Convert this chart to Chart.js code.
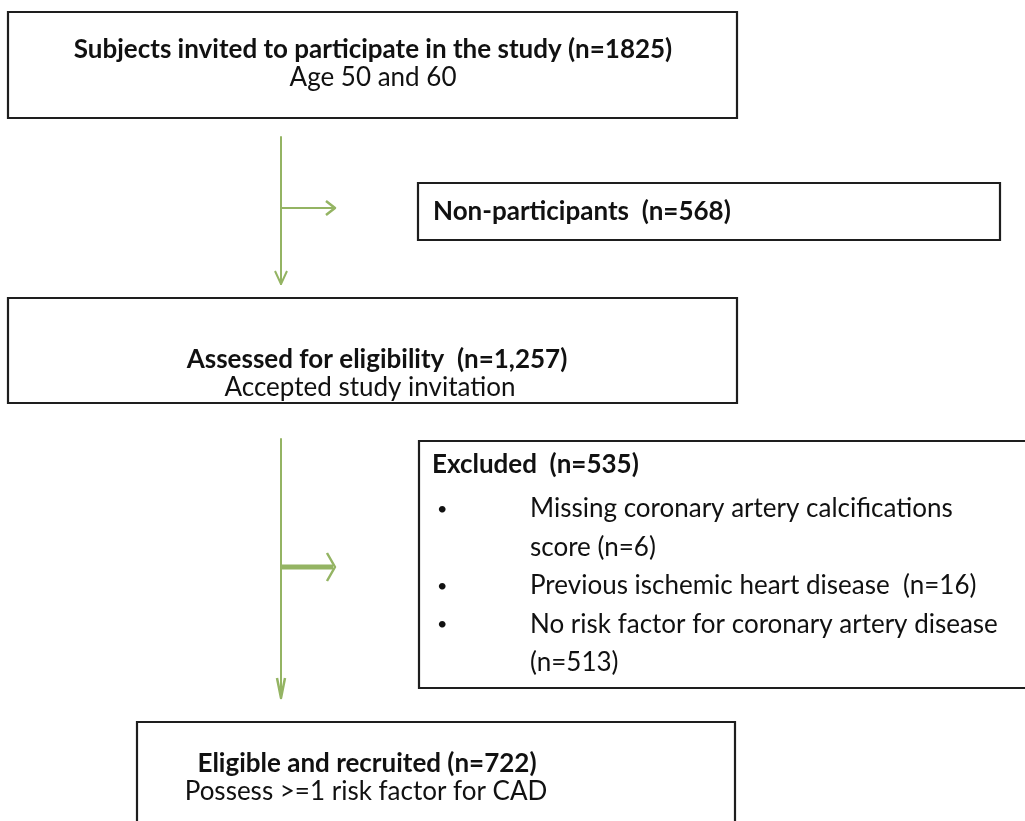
<!DOCTYPE html>
<html>
<head>
<meta charset="utf-8">
<script src="https://cdn.jsdelivr.net/npm/chart.js@4.4.0/dist/chart.umd.min.js"></script>
<style>
  html, body { margin: 0; padding: 0; background: #ffffff; }
  #flow { display: block; }
</style>
</head>
<body>
<canvas id="flow" width="1025" height="821"></canvas>
<script>
// Flow chart content (stage titles, counts, notes)
const stageTitles = ["Subjects invited to participate in the study", "Non-participants", "Assessed for eligibility", "Excluded", "Eligible and recruited"];
const stageCounts = ["1825", "568", "1,257", "535", "722"];
const stageNotes = ["Age 50 and 60", "", "Accepted study invitation", "", "Possess >=1 risk factor for CAD"];

// Exclusion reasons and their counts
const exclusionReasons = ["Missing coronary artery calcifications score", "Previous ischemic heart disease ", "No risk factor for coronary artery disease"];
const exclusionCounts = ["6", "16", "513"];

// Layout of the boxes (canvas units), kept apart from the data
const boxColor = "#1e1e1e";
const arrowColor = "#94b463";
const font = "Lato, 'Open Sans', sans-serif";

const boxPaths = [
    [[8, 12], [737, 12], [737, 118], [8, 118], [8, 12]],
    [[418, 183], [1000, 183], [1000, 240], [418, 240], [418, 183]],
    [[8, 298], [737, 298], [737, 403], [8, 403], [8, 298]],
    [[1030, 441], [419, 441], [419, 688], [1030, 688]],
    [[137, 830], [137, 722], [735, 722], [735, 830]]
];

const arrowPaths = [
    { pts: [[281, 137], [281, 284]], w: 2 },
    { pts: [[275, 271], [281, 284], [287, 271]], w: 2 },
    { pts: [[281, 208], [334, 208]], w: 2 },
    { pts: [[326, 201], [335, 208], [326, 215]], w: 2.5 },
    { pts: [[281, 439], [281, 698]], w: 2 },
    { pts: [[277, 678], [281, 698], [285, 678]], w: 2.5 },
    { pts: [[281, 567], [333, 567]], w: 5 },
    { pts: [[327, 553], [335, 567], [327, 581]], w: 2.5 }
];

function toPoints(pts) {
    return pts.map(function (p) { return { x: p[0], y: p[1] }; });
}

let datasets = [];
boxPaths.forEach(function (path) {
    datasets.push({
        data: toPoints(path),
        showLine: true,
        borderColor: boxColor,
        borderWidth: 2.2,
        pointRadius: 0,
        tension: 0,
        borderJoinStyle: "miter",
        borderCapStyle: "square"
    });
});
arrowPaths.forEach(function (a) {
    datasets.push({
        data: toPoints(a.pts),
        showLine: true,
        borderColor: arrowColor,
        borderWidth: a.w,
        pointRadius: 0,
        tension: 0,
        borderJoinStyle: "round",
        borderCapStyle: "butt"
    });
});

// Text placed through the chart scales
function buildLines() {
    let lines = [];
    // Box 1
    lines.push({ x: 373, y: 50, text: stageTitles[0] + " (n=" + stageCounts[0] + ")", bold: true, align: "center" });
    lines.push({ x: 373, y: 78, text: stageNotes[0], bold: false, align: "center" });
    // Box 2
    lines.push({ x: 433, y: 212, text: stageTitles[1] + "  (n=" + stageCounts[1] + ")", bold: true, align: "left" });
    // Box 3
    lines.push({ x: 377, y: 360, text: stageTitles[2] + "  (n=" + stageCounts[2] + ")", bold: true, align: "center" });
    lines.push({ x: 370, y: 388, text: stageNotes[2], bold: false, align: "center" });
    // Box 4
    lines.push({ x: 432, y: 465, text: stageTitles[3] + "  (n=" + stageCounts[3] + ")", bold: true, align: "left" });
    const reasonLines = [
        [exclusionReasons[0].replace(" score", ""), "score (n=" + exclusionCounts[0] + ")"],
        [exclusionReasons[1] + " (n=" + exclusionCounts[1] + ")"],
        [exclusionReasons[2], "(n=" + exclusionCounts[2] + ")"]
    ];
    let y = 509;
    reasonLines.forEach(function (r) {
        lines.push({ x: 437, y: y, text: "\u2022", bold: false, align: "left", size: 18 });
        r.forEach(function (t) {
            lines.push({ x: 530, y: y, text: t, bold: false, align: "left" });
            y += 38.5;
        });
    });
    // Box 5
    lines.push({ x: 367, y: 764, text: stageTitles[4] + " (n=" + stageCounts[4] + ")", bold: true, align: "center" });
    lines.push({ x: 366, y: 792, text: stageNotes[4], bold: false, align: "center" });
    return lines;
}

const textPlugin = {
    id: "flowText",
    afterDatasetsDraw: function (chart) {
        const ctx = chart.ctx;
        const xs = chart.scales.x;
        const ys = chart.scales.y;
        ctx.save();
        ctx.fillStyle = "#111111";
        ctx.textBaseline = "middle";
        buildLines().forEach(function (l) {
            ctx.font = (l.bold ? "bold " : "") + (l.size || 26) + "px " + font;
            ctx.textAlign = l.align;
            ctx.fillText(l.text, xs.getPixelForValue(l.x), ys.getPixelForValue(l.y));
        });
        ctx.restore();
    }
};

new Chart(document.getElementById("flow"), {
    type: "scatter",
    data: { datasets: datasets },
    options: {
        responsive: false,
        animation: false,
        layout: { padding: 0 },
        plugins: { legend: { display: false }, tooltip: { enabled: false } },
        scales: {
            x: { type: "linear", min: 0, max: 1025, display: false },
            y: { type: "linear", min: 0, max: 821, reverse: true, display: false }
        }
    },
    plugins: [textPlugin]
});
</script>
</body>
</html>
